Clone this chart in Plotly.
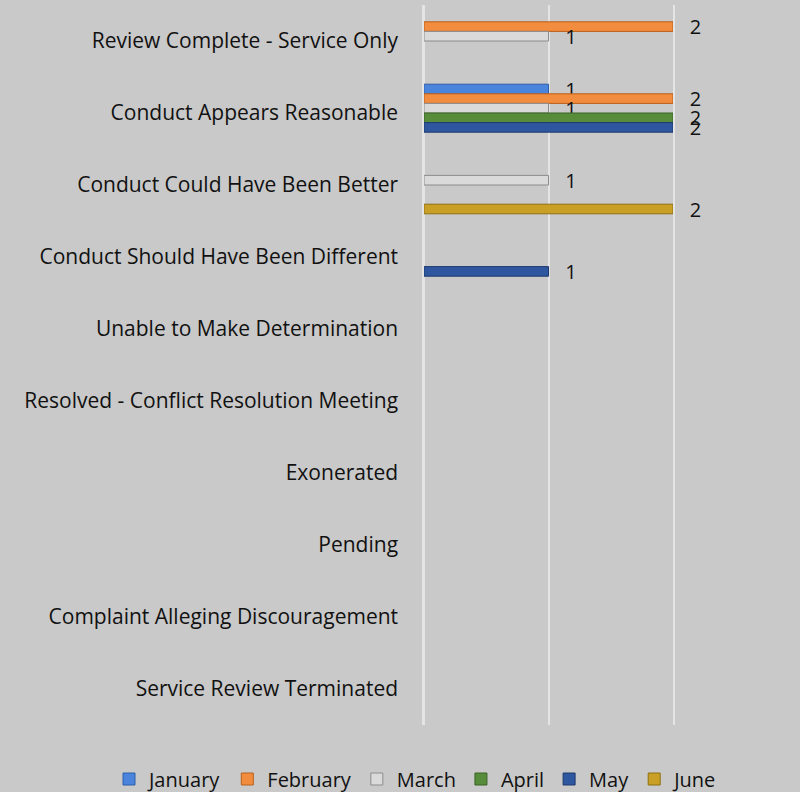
import plotly.graph_objects as go

categories = [
    "Review Complete - Service Only",
    "Conduct Appears Reasonable",
    "Conduct Could Have Been Better",
    "Conduct Should Have Been Different",
    "Unable to Make Determination",
    "Resolved - Conflict Resolution Meeting",
    "Exonerated",
    "Pending",
    "Complaint Alleging Discouragement",
    "Service Review Terminated",
]

months = ["January", "February", "March", "April", "May", "June"]

january = [None, 1, None, None, None, None, None, None, None, None]
february = [2, 2, None, None, None, None, None, None, None, None]
march = [1, 1, 1, None, None, None, None, None, None, None]
april = [None, 2, None, None, None, None, None, None, None, None]
may = [None, 2, None, 1, None, None, None, None, None, None]
june = [None, None, 2, None, None, None, None, None, None, None]

series = [january, february, march, april, may, june]
colors = ["#4a84dc", "#f28c3e", "#dadada", "#578c3b", "#2f57a0", "#c9a025"]
edges = ["#2d5ea8", "#b9601c", "#8c8c8c", "#3a6325", "#1f3b6e", "#8f7010"]

FONT = "Open Sans"
PAD = "\u00a0\u00a0\u2009"
GRID = "#e4e4e4"

fig = go.Figure()
for name, vals, c, e in zip(months, series, colors, edges):
    fig.add_trace(go.Bar(
        y=categories, x=vals, name=name, orientation="h",
        marker=dict(color=c, line=dict(color=e, width=1)),
        text=[("" if v is None else PAD + str(v)) for v in vals],
        textposition="outside", constraintext="none", cliponaxis=False,
        textfont=dict(family=FONT, size=20, color="#111111"),
    ))

fig.update_layout(
    width=800, height=792,
    barmode="group", bargap=0.2, bargroupgap=0.0,
    paper_bgcolor="#c9c9c9", plot_bgcolor="#c9c9c9",
    margin=dict(l=424, r=127, t=5, b=67, autoexpand=False),
    font=dict(family=FONT, size=20, color="#111111"),
    showlegend=True,
    legend=dict(orientation="h", xref="paper", yref="paper",
                x=(109 - 424) / 249, xanchor="left",
                y=-(779 - 725) / 720, yanchor="middle",
                font=dict(family=FONT, size=20, color="#111111"),
                bgcolor="rgba(0,0,0,0)", traceorder="normal"),
    xaxis=dict(range=[0, 2], tickvals=[0, 1, 2], showticklabels=False,
               showgrid=True, gridcolor=GRID, gridwidth=1.5,
               zeroline=True, zerolinecolor=GRID, zerolinewidth=1.5,
               showline=False, fixedrange=True, automargin=False),
    yaxis=dict(autorange="reversed", showgrid=False,
               showline=True, mirror=True, linecolor=GRID, linewidth=1.5,
               automargin=False, fixedrange=True,
               ticks="outside", ticklen=20, tickcolor="rgba(0,0,0,0)",
               tickfont=dict(family=FONT, size=21, color="#111111")),
)

fig.write_html("out.html", config={"displayModeBar": False},
               post_script="document.body.style.margin='0';")
